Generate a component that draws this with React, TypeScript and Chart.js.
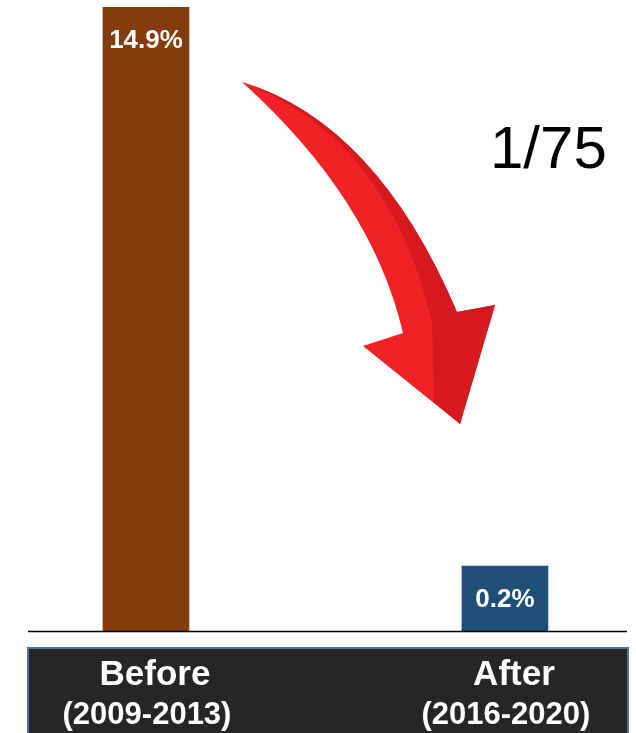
import React, { useEffect, useRef } from "react";
import { Chart, registerables } from "chart.js";

Chart.register(...registerables);

// ---- data ----
const categories = ["Before", "After"];
const periods = ["(2009-2013)", "(2016-2020)"];
const rates = [14.9, 0.2]; // printed values, %
const barHeights = [14.9, 1.55]; // bar heights as drawn in the source (After bar exaggerated)
const ratioLabel = "1/75";

const barColors = ["#843C0C", "#1F4E79"];
const FONT = "'Liberation Sans', Arial, Helvetica, sans-serif";

function drawArrow(ctx: CanvasRenderingContext2D) {
  const T = [242, 82];
  const O = [457, 312];
  const R = [495, 305];
  const P = [460, 424];
  const L = [363, 346];
  const I = [403, 333];
  ctx.save();
  // whole arrow, light red
  ctx.beginPath();
  ctx.moveTo(T[0], T[1]);
  ctx.quadraticCurveTo(376.5, 123, O[0], O[1]);
  ctx.lineTo(R[0], R[1]);
  ctx.lineTo(P[0], P[1]);
  ctx.lineTo(L[0], L[1]);
  ctx.lineTo(I[0], I[1]);
  ctx.quadraticCurveTo(371.5, 198.5, T[0], T[1]);
  ctx.closePath();
  ctx.fillStyle = "#F12225";
  ctx.fill();
  // dark outer side
  ctx.beginPath();
  ctx.moveTo(T[0], T[1]);
  ctx.quadraticCurveTo(376.5, 123, O[0], O[1]);
  ctx.lineTo(R[0], R[1]);
  ctx.lineTo(P[0], P[1]);
  ctx.lineTo(434, 402);
  ctx.lineTo(432, 322);
  ctx.quadraticCurveTo(389, 137.5, T[0], T[1]);
  ctx.closePath();
  ctx.fillStyle = "#D5191C";
  ctx.fill();
  ctx.restore();
}

const overlayPlugin = {
  id: "overlay",
  afterDraw(chart: any) {
    const { ctx, chartArea, scales } = chart;
    const xs = scales.x;
    ctx.save();
    // baseline
    ctx.beginPath();
    ctx.moveTo(chartArea.left, chartArea.bottom + 0.5);
    ctx.lineTo(chartArea.right, chartArea.bottom + 0.5);
    ctx.strokeStyle = "#000";
    ctx.lineWidth = 1.5;
    ctx.stroke();

    // bar value labels
    const meta = chart.getDatasetMeta(0);
    ctx.fillStyle = "#fff";
    ctx.textAlign = "center";
    ctx.textBaseline = "alphabetic";
    ctx.font = `bold 26px ${FONT}`;
    meta.data.forEach((bar: any, i: number) => {
      ctx.fillText(`${rates[i]}%`, bar.x, bar.y + 41);
    });

    // category box
    const boxTop = chartArea.bottom + 17;
    ctx.fillStyle = "#262626";
    ctx.fillRect(chartArea.left, boxTop, chartArea.right - chartArea.left + 1, 120);
    ctx.strokeStyle = "#4A74A2";
    ctx.lineWidth = 2;
    ctx.strokeRect(chartArea.left, boxTop, chartArea.right - chartArea.left + 1, 120);

    ctx.fillStyle = "#fff";
    categories.forEach((c, i) => {
      const x = xs.getPixelForValue(i);
      ctx.font = `bold 35px ${FONT}`;
      ctx.fillText(c, x + 9, boxTop + 37);
      ctx.font = `bold 31px ${FONT}`;
      ctx.fillText(periods[i], x + 1, boxTop + 76);
    });

    // arrow and ratio
    drawArrow(ctx);
    ctx.fillStyle = "#000";
    ctx.textAlign = "left";
    ctx.font = `60px ${FONT}`;
    ctx.fillText(ratioLabel, 490, 168);
    ctx.restore();
  },
};

export default function App() {
  const ref = useRef<HTMLCanvasElement | null>(null);
  useEffect(() => {
    if (!ref.current) return;
    const chart = new Chart(ref.current, {
      type: "bar",
      data: {
        datasets: [
          {
            data: barHeights.map((v, i) => ({ x: i, y: v })),
            backgroundColor: barColors,
            borderWidth: 0,
            barThickness: 86,
          },
        ],
      },
      options: {
        animation: false,
        responsive: false,
        maintainAspectRatio: false,
        events: [],
        layout: { padding: { left: 28, right: 9, top: 7, bottom: 102 } },
        plugins: { legend: { display: false }, tooltip: { enabled: false } },
        scales: {
          x: { type: "linear", min: -0.3287, max: 1.34, display: false, offset: false },
          y: { min: 0, max: 14.9, display: false },
        },
      },
      plugins: [overlayPlugin],
    });
    return () => chart.destroy();
  }, []);
  return (
    <div style={{ position: "absolute", left: 0, top: 0, width: 636, height: 733, background: "#fff" }}>
      <canvas ref={ref} width={636} height={733} style={{ display: "block", width: 636, height: 733 }} />
    </div>
  );
}
